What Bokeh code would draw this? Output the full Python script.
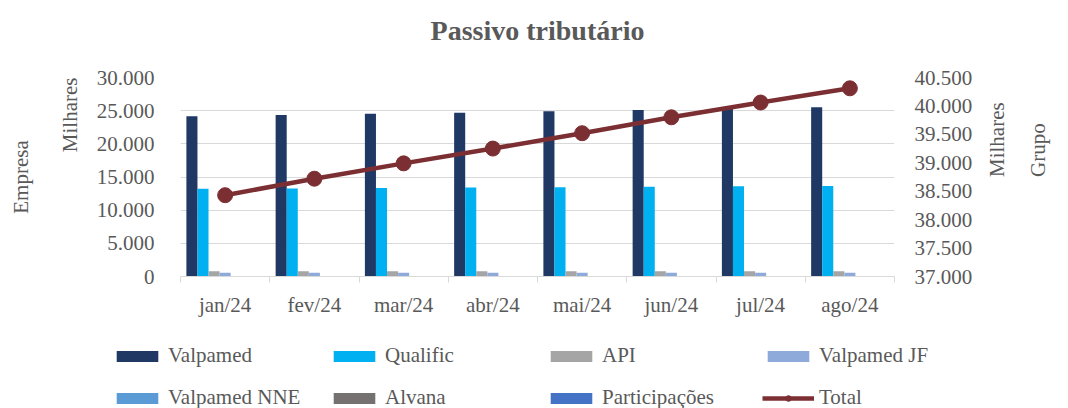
import math
from bokeh.plotting import figure
from bokeh.layouts import column
from bokeh.models import (ColumnDataSource, Range1d, LinearAxis, FixedTicker,
                          Legend, LegendItem)
from bokeh.transform import dodge
from bokeh.embed import file_html
from bokeh.resources import INLINE

# ---- data ----
months = ["jan/24", "fev/24", "mar/24", "abr/24", "mai/24", "jun/24", "jul/24", "ago/24"]
valpamed = [24140, 24340, 24550, 24700, 24900, 25090, 25300, 25500]
qualific = [13210, 13270, 13330, 13400, 13460, 13530, 13600, 13660]
api = [800, 800, 790, 790, 790, 780, 780, 780]
valpamed_jf = [560, 560, 560, 560, 560, 560, 560, 560]
valpamed_nne = [20, 20, 20, 20, 20, 20, 20, 20]
alvana = [10, 10, 10, 10, 10, 10, 10, 10]
participacoes = [5, 5, 5, 5, 5, 5, 5, 5]
total = [38430, 38720, 38990, 39250, 39520, 39800, 40060, 40310]

left_ticks = [0, 5000, 10000, 15000, 20000, 25000, 30000]
left_labels = ["0", "5.000", "10.000", "15.000", "20.000", "25.000", "30.000"]
right_ticks = [37000, 37500, 38000, 38500, 39000, 39500, 40000, 40500]
right_labels = ["37.000", "37.500", "38.000", "38.500", "39.000", "39.500", "40.000", "40.500"]

series_names = ["Valpamed", "Qualific", "API", "Valpamed JF", "Valpamed NNE", "Alvana", "Participações"]
series_vals = [valpamed, qualific, api, valpamed_jf, valpamed_nne, alvana, participacoes]
colors = ["#1F3864", "#00B0F0", "#A5A5A5", "#8EAADB", "#5B9BD5", "#767171", "#4472C4"]
line_color = "#7C2F33"
title_text = "Passivo tributário"

FONT = "Liberation Serif"
TXT = "#595959"

n = len(months)
centers = [i + 0.5 for i in range(n)]
bounds = [float(i) for i in range(n + 1)]

data = {"x": centers, "total": total}
for i, v in enumerate(series_vals):
    data["s%d" % i] = v
source = ColumnDataSource(data)

p = figure(width=1068, height=330, output_backend="svg", toolbar_location=None,
           x_range=Range1d(0, n), y_range=Range1d(0, 30000),
           min_border_left=180, min_border_right=174, min_border_top=77,
           min_border_bottom=54)
p.frame_align = False
p.extra_y_ranges = {"grupo": Range1d(37000, 40500)}
p.title.visible = False

p.outline_line_color = None
p.background_fill_color = "white"

def style_label(ax, size="21px", style="normal"):
    ax.axis_label_text_font = FONT
    ax.axis_label_text_font_size = size
    ax.axis_label_text_font_style = style
    ax.axis_label_text_color = TXT

def blank_axis(label, standoff, rng=None, orient=None, align=None):
    kw = {}
    if rng is not None:
        kw["y_range_name"] = rng
    ax = LinearAxis(ticker=FixedTicker(ticks=[]), axis_line_color=None,
                    major_tick_line_color=None, minor_tick_line_color=None,
                    major_tick_out=0, major_tick_in=0, major_label_standoff=0,
                    major_label_text_font_size="0px", axis_label=label,
                    axis_label_standoff=standoff, **kw)
    if orient is not None:
        ax.axis_label_orientation = orient
    if align is not None:
        ax.axis_label_align = align
    style_label(ax)
    return ax

# x axis (bottom)
xa = p.below[0]
xa.ticker = FixedTicker(ticks=centers, minor_ticks=bounds)
xa.major_label_overrides = {c: m for c, m in zip(centers, months)}
xa.major_tick_out = 0
xa.major_tick_in = 0
xa.minor_tick_out = 6
xa.minor_tick_in = 0
xa.minor_tick_line_color = "#D9D9D9"
xa.axis_line_color = "#D9D9D9"
xa.major_label_text_font = FONT
xa.major_label_text_font_size = "21px"
xa.major_label_text_color = TXT
xa.major_label_standoff = 10

# title as label of a blank top axis
tax = LinearAxis(ticker=FixedTicker(ticks=[]), axis_line_color=None,
                 major_tick_line_color=None, minor_tick_line_color=None,
                 major_tick_out=0, major_tick_in=0, major_label_standoff=0,
                 major_label_text_font_size="0px", axis_label=title_text,
                 axis_label_standoff=32)
style_label(tax, size="28px", style="bold")
p.add_layout(tax, "above")

# left axis
ya = p.left[0]
ya.ticker = FixedTicker(ticks=left_ticks)
ya.major_label_overrides = {t: l for t, l in zip(left_ticks, left_labels)}
ya.axis_line_color = None
ya.major_tick_line_color = None
ya.minor_tick_line_color = None
ya.major_label_text_font = FONT
ya.major_label_text_font_size = "21px"
ya.major_label_text_color = TXT
ya.major_label_standoff = 20

p.add_layout(blank_axis("Milhares", 24, orient=math.pi / 2, align="end"), "left")
p.add_layout(blank_axis("Empresa", 10), "left")

# right axis
ra = LinearAxis(y_range_name="grupo", ticker=FixedTicker(ticks=right_ticks))
ra.major_label_overrides = {t: l for t, l in zip(right_ticks, right_labels)}
ra.axis_line_color = None
ra.major_tick_line_color = None
ra.minor_tick_line_color = None
ra.major_label_text_font = FONT
ra.major_label_text_font_size = "21px"
ra.major_label_text_color = TXT
ra.major_label_standoff = 14
p.add_layout(ra, "right")

p.add_layout(blank_axis("Milhares", 21, rng="grupo", orient=math.pi / 2,
                        align="center"), "right")
p.add_layout(blank_axis("Grupo", 14, rng="grupo", orient=math.pi / 2,
                        align="center"), "right")

p.xgrid.grid_line_color = None
p.ygrid.grid_line_color = "#D9D9D9"
p.ygrid.grid_line_width = 1

# bars
bw = 0.124
for i, col in enumerate(colors):
    off = (i - 3) * bw
    p.vbar(x=dodge("x", off, range=p.x_range), top="s%d" % i, width=bw,
           source=source, fill_color=col, line_color=None)

# total line
p.line(x="x", y="total", source=source, y_range_name="grupo",
       line_color=line_color, line_width=4.5)
p.scatter(x="x", y="total", source=source, y_range_name="grupo",
          size=15, fill_color=line_color, line_color=line_color)

# ---- legend figure ----
lg = figure(width=1068, height=78, output_backend="svg", toolbar_location=None,
            x_range=Range1d(0, 1), y_range=Range1d(0, 1),
            min_border=0, outline_line_color=None)
lg.frame_align = False
lg.axis.visible = False
lg.grid.visible = False
off_src = ColumnDataSource({"x": [-10, -11], "y": [-10, -11]})
legend_items = []
for name, col in zip(series_names, colors):
    r = lg.vbar(x="x", top="y", width=0.1, source=off_src, fill_color=col, line_color=None)
    legend_items.append(LegendItem(label=name, renderers=[r]))
lr = lg.line(x="x", y="y", source=off_src, line_color=line_color, line_width=4.5)
sr = lg.scatter(x="x", y="y", source=off_src, size=14, fill_color=line_color,
                line_color=line_color)
legend_items.append(LegendItem(label="Total", renderers=[lr, sr]))
legend = Legend(items=legend_items, ncols=4, orientation="horizontal",
                location=(111, -2),
                glyph_width=52, glyph_height=14, label_standoff=5,
                label_width=143, label_height=22, spacing=17,
                padding=0, margin=0,
                label_text_font=FONT, label_text_font_size="21px",
                label_text_color=TXT,
                border_line_color=None, background_fill_alpha=0)
lg.add_layout(legend, "center")

layout = column(p, lg, spacing=0)
open("out.html", "w").write(file_html(layout, INLINE))
